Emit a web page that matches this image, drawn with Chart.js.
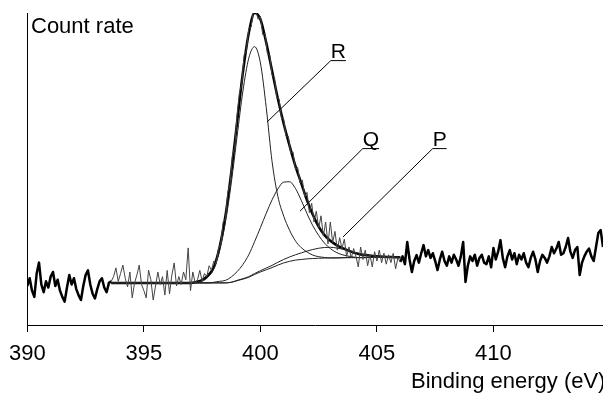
<!DOCTYPE html>
<html>
<head>
<meta charset="utf-8">
<script src="https://cdn.jsdelivr.net/npm/chart.js@4/dist/chart.umd.min.js"></script>
<style>
  body { margin: 0; background: #fff; }
  canvas { display: block; }
</style>
</head>
<body>
<canvas id="chart" width="603" height="393"></canvas>
<script>
// measured spectrum, one value every 0.1 eV starting at 390.0 eV
const rawStart = 390.0;
const rawStep = 0.1;
const rawCounts = [
  12.5, 15.0, 11.0, 9.0, 16.5, 20.0, 13.0, 10.5, 14.0, 12.0,
  15.5, 17.0, 12.5, 14.5, 11.0, 9.0, 7.5, 12.0, 16.0, 13.0,
  15.0, 11.5, 9.5, 8.0, 12.5, 16.0, 17.5, 13.0, 10.0, 8.5,
  11.5, 14.0, 15.0, 12.0, 10.5, 13.5, 14.0, 15.5, 18.3, 14.0,
  16.5, 19.2, 15.0, 12.2, 17.0, 8.7, 13.5, 16.0, 19.2, 13.0,
  11.0, 8.7, 17.6, 14.5, 8.0, 12.5, 17.0, 13.0, 15.5, 9.6,
  17.5, 10.0, 16.0, 19.9, 12.5, 15.5, 13.0, 17.0, 14.5, 24.7,
  11.0, 17.0, 13.5, 14.5, 17.5, 14.0, 16.5, 15.5, 19.0, 17.5,
  20.5, 19.5, 24.5, 26.0, 33.0, 34.0, 42.5, 45.0, 54.5, 57.0,
  67.5, 74.5, 77.0, 86.5, 88.0, 95.0, 95.5, 100.5, 101.0, 98.0,
  99.0, 93.0, 93.5, 87.0, 86.5, 80.0, 79.5, 73.0, 72.5, 66.5,
  66.0, 60.5, 60.5, 55.0, 55.5, 50.0, 50.5, 45.5, 46.5, 41.0,
  42.5, 36.0, 39.0, 33.0, 36.5, 31.0, 35.0, 28.5, 33.0, 26.0,
  33.0, 26.5, 30.0, 24.0, 28.0, 24.5, 27.5, 22.0, 25.0, 21.5,
  24.5, 22.0, 18.6, 25.0, 21.0, 24.0, 19.0, 22.5, 18.6, 23.5,
  20.5, 24.0, 20.0, 23.0, 19.5, 22.5, 20.0, 23.0, 18.0, 21.5,
  20.2, 22.0, 19.5, 26.6, 21.0, 17.0, 20.5, 22.4, 20.0, 23.0,
  25.6, 22.0, 24.0, 21.5, 23.0, 20.5, 17.6, 21.0, 23.5, 20.5,
  19.0, 22.0, 20.0, 22.5, 21.0, 19.0, 22.0, 26.6, 13.8, 19.0,
  22.0, 20.5, 22.5, 19.0, 21.5, 22.5, 20.0, 19.5, 22.0, 18.5,
  24.7, 21.0, 23.5, 27.2, 21.5, 18.5, 22.0, 24.0, 21.0, 23.0,
  19.5, 22.5, 21.0, 23.0, 20.0, 18.5, 21.5, 23.5, 21.0, 17.0,
  20.5, 22.5, 21.5, 20.0, 22.0, 25.0, 23.0, 24.5, 26.6, 22.5,
  23.0, 25.0, 27.9, 23.5, 21.5, 24.0, 25.0, 16.0, 20.0, 22.0,
  23.5, 24.5, 22.0, 20.5, 25.0, 29.5, 30.4, 25.0
];
// the fitted region (thin raw line) runs between these energies
const fitFrom = 393.6;
const fitTo = 406.0;

// fit curves
const fitEnergy = [393.6, 395, 396, 396.5, 397, 397.25, 397.5, 397.75, 398, 398.25, 398.5, 398.75,
  399, 399.25, 399.5, 399.75, 400, 400.25, 400.5, 400.75, 401, 401.25, 401.5, 401.75,
  402, 402.25, 402.5, 402.75, 403, 403.25, 403.5, 403.75, 404, 404.25, 404.5, 404.75,
  405, 405.25, 405.5, 405.75, 406];
const background = [13.5, 13.5, 13.5, 13.5, 13.5, 13.5, 13.5, 13.5, 13.5, 13.5, 13.5, 13.7,
  14.2, 14.7, 15.3, 16.2, 17.0, 17.7, 18.4, 19.2, 19.9, 20.4, 20.8, 21.0,
  21.2, 21.3, 21.4, 21.45, 21.5, 21.5, 21.55, 21.6, 21.6, 21.6, 21.6, 21.65,
  21.65, 21.7, 21.7, 21.7, 21.7];
const peakR = [13.5, 13.5, 13.5, 13.5, 13.5, 13.7, 14.1, 15.3, 18.0, 23.8, 33.0, 45.5,
  60.5, 75.0, 85.5, 89.2, 84.0, 69.7, 52.4, 41.2, 34.9, 30.4, 27.0, 24.8,
  23.4, 22.4, 21.9, 21.65, 21.5, 21.5, 21.55, 21.6, 21.6, 21.6, 21.6, 21.65,
  21.65, 21.7, 21.7, 21.7, 21.7];
const peakQ = [13.5, 13.5, 13.5, 13.5, 13.5, 13.5, 13.5, 13.5, 13.7, 14.0, 14.3, 15.4,
  17.1, 19.4, 22.5, 26.7, 31.2, 35.8, 40.1, 43.6, 45.8, 45.9, 43.8, 40.0,
  35.7, 31.8, 28.7, 26.25, 24.5, 23.3, 22.55, 22.1, 21.8, 21.6, 21.6, 21.65,
  21.65, 21.7, 21.7, 21.7, 21.7];
const peakP = [13.5, 13.5, 13.5, 13.5, 13.5, 13.5, 13.5, 13.5, 13.5, 13.5, 13.5, 13.7,
  14.3, 14.85, 15.5, 16.5, 17.4, 18.25, 19.1, 20.1, 21.0, 21.8, 22.5, 23.1,
  23.7, 24.2, 24.6, 24.85, 24.9, 24.7, 24.35, 23.9, 23.4, 22.9, 22.5, 22.25,
  22.05, 21.95, 21.85, 21.75, 21.7];
const envelope = [13.5, 13.5, 13.5, 13.5, 13.5, 13.8, 14.4, 15.8, 18.5, 25.0, 35.0, 49.0,
  65.0, 81.0, 93.5, 100.0, 98.0, 90.5, 81.5, 72.5, 64.5, 57.5, 51.0, 45.5,
  40.0, 35.3, 31.5, 28.8, 27.0, 25.7, 24.7, 23.9, 23.2, 22.7, 22.4, 22.2,
  22.0, 21.9, 21.8, 21.75, 21.7];

const xTicks = [390, 395, 400, 405, 410];

// peak labels: label anchor (energy, count) and where the leader line ends
const peakLabels = [
  { text: "R", x: 403.02, y: 84.9, toX: 400.29, toY: 65.1 },
  { text: "Q", x: 404.39, y: 56.7, toX: 401.70, toY: 36.5 },
  { text: "P", x: 407.39, y: 56.7, toX: 403.54, toY: 28.2 }
];

const FONT = '"Liberation Sans", Arial, Helvetica, sans-serif';

function rawPoints(thick) {
  const left = [], inner = [], right = [];
  rawCounts.forEach((v, i) => {
    const e = Math.round((rawStart + i * rawStep) * 10) / 10;
    const p = { x: e, y: v };
    if (e <= fitFrom) left.push(p);
    if (e >= fitFrom && e <= fitTo) inner.push(p);
    if (e >= fitTo) right.push(p);
  });
  return thick ? [left, right] : inner;
}

function curve(values) {
  return values.map((v, i) => ({ x: fitEnergy[i], y: v }));
}

const labelPlugin = {
  id: "labels",
  afterDatasetsDraw(chart) {
    const ctx = chart.ctx;
    const xs = chart.scales.x, ys = chart.scales.y;
    ctx.save();
    ctx.fillStyle = "#000";
    ctx.strokeStyle = "#000";
    ctx.font = "22px " + FONT;
    ctx.textBaseline = "alphabetic";
    ctx.textAlign = "left";
    ctx.fillText("Count rate", 31, 33);
    ctx.fillText("Binding energy (eV)", 411, 388);

    ctx.font = "21px " + FONT;
    ctx.lineWidth = 1;
    peakLabels.forEach(l => {
      const px = xs.getPixelForValue(l.x), py = ys.getPixelForValue(l.y);
      const w = ctx.measureText(l.text).width;
      ctx.fillText(l.text, px, py - 2);
      ctx.beginPath();
      ctx.moveTo(px + w, py + 0.5);
      ctx.lineTo(px, py + 0.5);
      ctx.lineTo(xs.getPixelForValue(l.toX), ys.getPixelForValue(l.toY));
      ctx.stroke();
    });
    ctx.restore();
  }
};

const [thickLeft, thickRight] = rawPoints(true);

new Chart(document.getElementById("chart"), {
  type: "line",
  data: {
    datasets: [
      { data: rawPoints(false), borderColor: "#444", borderWidth: 1, tension: 0 },
      { data: curve(background), borderColor: "#222", borderWidth: 1, cubicInterpolationMode: "monotone" },
      { data: curve(peakP), borderColor: "#222", borderWidth: 1, cubicInterpolationMode: "monotone" },
      { data: curve(peakQ), borderColor: "#222", borderWidth: 1, cubicInterpolationMode: "monotone" },
      { data: curve(peakR), borderColor: "#222", borderWidth: 1, cubicInterpolationMode: "monotone" },
      { data: curve(envelope), borderColor: "#000", borderWidth: 2.5, cubicInterpolationMode: "monotone" },
      { data: thickLeft, borderColor: "#000", borderWidth: 2.5, tension: 0 },
      { data: thickRight, borderColor: "#000", borderWidth: 2.5, tension: 0 }
    ]
  },
  options: {
    responsive: false,
    animation: false,
    devicePixelRatio: 1,
    layout: { padding: { top: 13, right: 0, left: 0, bottom: 0 } },
    elements: { point: { radius: 0 }, line: { borderJoinStyle: "round" } },
    plugins: { legend: { display: false }, tooltip: { enabled: false } },
    scales: {
      x: {
        type: "linear",
        min: 390,
        max: 414.7,
        afterBuildTicks: scale => { scale.ticks = xTicks.map(v => ({ value: v })); },
        afterFit: scale => { scale.height = 68; },
        ticks: { color: "#000", font: { size: 22, family: FONT }, padding: 9, maxRotation: 0 },
        grid: { drawOnChartArea: false, drawTicks: true, tickLength: 7, color: "#000" },
        border: { display: true, color: "#000", width: 1 }
      },
      y: {
        min: 0,
        max: 100,
        afterFit: scale => { scale.width = 25; },
        ticks: { display: false },
        grid: { display: false },
        border: { display: true, color: "#000", width: 1 }
      }
    }
  },
  plugins: [labelPlugin]
});
</script>
</body>
</html>
